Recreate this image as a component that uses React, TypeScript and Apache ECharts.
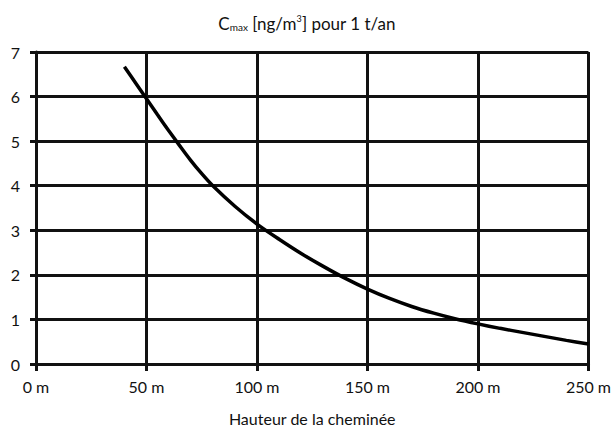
import React, { useEffect, useRef } from "react";
import * as echarts from "echarts";

const heights = [40, 45, 50, 55, 60, 65, 70, 75, 80, 90, 100, 110, 120, 130, 140, 150, 160, 170, 180, 190, 200, 210, 220, 230, 240, 250];
const cmax = [6.67, 6.31, 5.95, 5.59, 5.24, 4.9, 4.57, 4.27, 4.0, 3.54, 3.14, 2.8, 2.48, 2.19, 1.92, 1.68, 1.47, 1.29, 1.14, 1.01, 0.9, 0.8, 0.71, 0.62, 0.53, 0.45];
const titleText = "{c|C}{s|max}{c| [ng/m}{p|3}{c|] pour 1 t/an}";
const xName = "Hauteur de la cheminée";

const FONT = "Lato, 'Open Sans', sans-serif";
const INK = "#111";

export default function App() {
  const ref = useRef<HTMLDivElement>(null);
  useEffect(() => {
    if (!ref.current) return;
    const chart = echarts.init(ref.current, null, { renderer: "svg" });
    chart.setOption({
      animation: false,
      backgroundColor: "#fff",
      title: {
        text: titleText,
        left: "center",
        top: 9,
        textStyle: {
          fontWeight: "normal",
          rich: {
            c: { fontFamily: FONT, fontSize: 17, color: INK, fontWeight: "normal" },
            s: { fontFamily: FONT, fontSize: 10, color: INK, fontWeight: "normal", verticalAlign: "bottom", padding: [6, 0, 0, 0] },
            p: { fontFamily: FONT, fontSize: 9, color: INK, fontWeight: "normal", verticalAlign: "top", padding: [0, 0, 9, 0] },
          },
        },
      },
      grid: { left: 36, right: 22, top: 52, bottom: 69, containLabel: false },
      xAxis: {
        type: "value",
        min: 0,
        max: 250,
        interval: 50,
        name: xName,
        nameLocation: "middle",
        nameGap: 46,
        nameTextStyle: { fontFamily: FONT, fontSize: 16, color: INK },
        axisLine: { show: true, lineStyle: { color: INK, width: 3 } },
        axisTick: { show: true, length: 7, lineStyle: { color: INK, width: 3 } },
        axisLabel: { formatter: (v: number) => `${v} m`, fontFamily: FONT, fontSize: 16, color: INK, margin: 14 },
        splitLine: { show: true, lineStyle: { color: INK, width: 3 } },
      },
      yAxis: {
        type: "value",
        min: 0,
        max: 7,
        interval: 1,
        axisLine: { show: true, lineStyle: { color: INK, width: 3 } },
        axisTick: { show: true, length: 6, lineStyle: { color: INK, width: 3 } },
        axisLabel: { fontFamily: FONT, fontSize: 16, color: INK, margin: 16 },
        splitLine: { show: true, lineStyle: { color: INK, width: 3 } },
      },
      series: [
        {
          type: "line",
          data: heights.map((h, i) => [h, cmax[i]]),
          smooth: 0.3,
          showSymbol: false,
          lineStyle: { color: "#000", width: 3.5 },
        },
      ],
    });
    return () => chart.dispose();
  }, []);
  return <div ref={ref} style={{ width: 614, height: 433, position: "absolute", left: 0, top: 0 }} />;
}
